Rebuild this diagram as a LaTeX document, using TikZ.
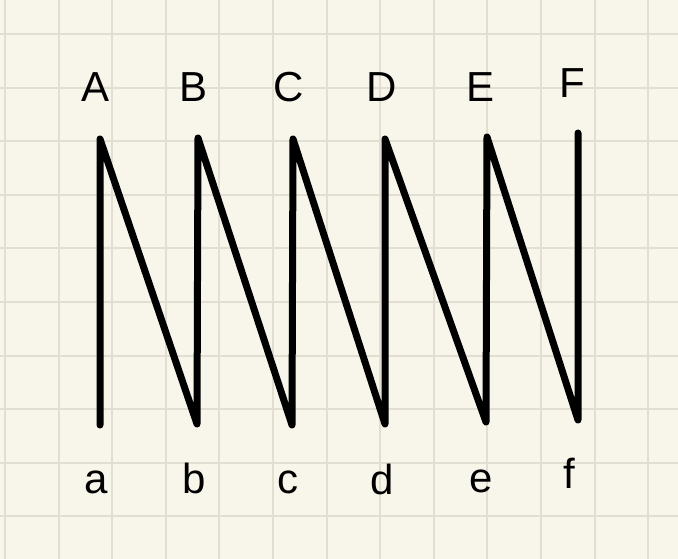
\documentclass[tikz,border=0pt]{standalone}
\usepackage{fontspec}
\setmainfont{Liberation Sans}
\definecolor{paper}{HTML}{F8F6EA}
\definecolor{gridc}{HTML}{E2DFD2}
\begin{document}
\begin{tikzpicture}[x=1pt,y=-1pt,
  gridline/.style={draw=gridc,line width=2pt},
  zig/.style={draw=black,line width=7pt,line cap=round,line join=round},
  lbl/.style={font=\fontsize{42}{42}\selectfont,anchor=base,inner sep=0pt}]
\fill[paper] (0,0) rectangle (678,559);
\useasboundingbox (0,0) rectangle (678,559);
\foreach \i in {0,...,12} \draw[gridline] ({5+53.6*\i},0) -- ({5+53.6*\i},559);
\foreach \i in {0,...,9} \draw[gridline] (0,{34+53.6*\i}) -- (678,{34+53.6*\i});
\coordinate (pa) at (100,425);
\coordinate (pA) at (100,139);
\coordinate (pb) at (197,424);
\coordinate (pB) at (198,138);
\coordinate (pc) at (292,425);
\coordinate (pC) at (293,139);
\coordinate (pd) at (385,424);
\coordinate (pD) at (385,139);
\coordinate (pe) at (486,422);
\coordinate (pE) at (487,137);
\coordinate (pf) at (578,420);
\coordinate (pF) at (578,133);
\draw[zig] (pa) -- (pA) -- (pb) -- (pB) -- (pc) -- (pC) -- (pd) -- (pD) -- (pe) -- (pE) -- (pf) -- (pF);
\node[lbl] (lA) at (96,102) {A};
\node[lbl] (lB) at (194,102) {B};
\node[lbl] (lC) at (289,102) {C};
\node[lbl] (lD) at (382,102) {D};
\node[lbl] (lE) at (481,102) {E};
\node[lbl] (lF) at (572,98) {F};
\node[lbl] (la) at (96,493) {a};
\node[lbl] (lb) at (194,493) {b};
\node[lbl] (lc) at (288,493) {c};
\node[lbl] (ld) at (382,494) {d};
\node[lbl] (le) at (481,492) {e};
\node[lbl] (lf) at (569,488) {f};
\end{tikzpicture}
\end{document}
